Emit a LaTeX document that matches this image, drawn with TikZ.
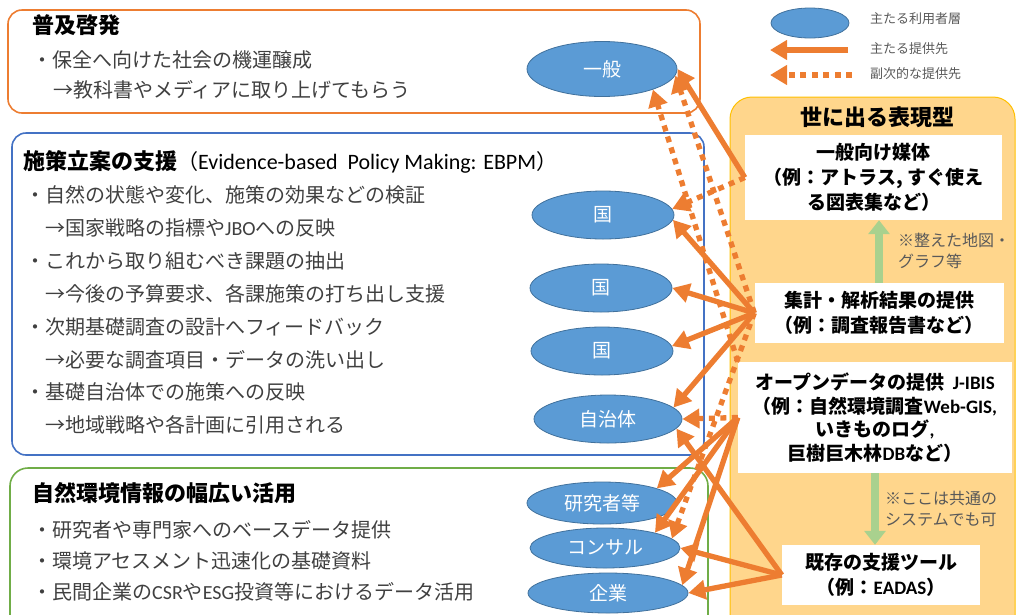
\documentclass[tikz,border=0pt]{standalone}
\usepackage{fontspec}
\setmainfont{Noto Sans CJK JP}
\newfontfamily\lat{Carlito}
\usetikzlibrary{shapes.geometric,arrows.meta}
\definecolor{org}{HTML}{ED7D31}
\definecolor{bblue}{HTML}{4472C4}
\definecolor{bgreen}{HTML}{70AD47}
\definecolor{efill}{HTML}{5B9BD5}
\definecolor{edraw}{HTML}{41719C}
\definecolor{pfill}{HTML}{FFD68C}
\definecolor{pdraw}{HTML}{FFC000}
\definecolor{garrow}{HTML}{A9D18E}
\definecolor{txtgray}{HTML}{404040}
\definecolor{notegray}{HTML}{595959}
\begin{document}
\begin{tikzpicture}[x=1pt,y=-1pt,
 ell/.style={ellipse, draw=edraw, fill=efill, line width=0.8pt, text=white, font=\fontsize{19}{22}\selectfont, inner sep=0pt},
 framebox/.style={rounded corners=14pt, line width=1.6pt},
 solidarr/.style={draw=org, line width=5.3pt, -{Triangle[length=17pt,width=19pt]}},
 dotarr/.style={draw=org, line width=5.3pt, dash pattern=on 6pt off 5.5pt, -{Triangle[length=17pt,width=19pt]}},
 wbox/.style={fill=white, draw=none, align=center, font=\bfseries\fontsize{19}{25}\selectfont, inner sep=0pt},
 bodytxt/.style={anchor=west, text=txtgray, font=\fontsize{20}{24}\selectfont, inner sep=0pt},
 ttl/.style={anchor=west, text=black, font=\bfseries\fontsize{22}{26}\selectfont, inner sep=0pt},
 notetxt/.style={anchor=north west, align=left, text=notegray, font=\fontsize{16}{21}\selectfont, inner sep=0pt},
 legtxt/.style={anchor=west, text=notegray, font=\fontsize{13}{16}\selectfont, inner sep=0pt},
 garr/.style={draw=garrow, line width=8pt, -{Triangle[length=14pt,width=21pt]}}
]
\useasboundingbox (0,0) rectangle (1016,614);
\clip (0,0) rectangle (1016,614);

% left frames
\draw[framebox, draw=org] (8,10) rectangle (700,113);
\draw[framebox, draw=bblue] (12,133) rectangle (704,455);
\draw[framebox, draw=bgreen, rounded corners=18pt] (10,468) rectangle (708,640);

% right panel
\draw[fill=pfill, draw=pdraw, line width=1pt, rounded corners=22pt] (730,97) rectangle (1015,650);

% ellipses
\node[ell, minimum width=150, minimum height=55] (ippan) at (602,69) {一般};
\node[ell, minimum width=142, minimum height=48] (kuni1) at (603,215) {国};
\node[ell, minimum width=142, minimum height=48] (kuni2) at (601,288) {国};
\node[ell, minimum width=142, minimum height=48] (kuni3) at (602,351) {国};
\node[ell, minimum width=148, minimum height=48] (jichi) at (608,419) {自治体};
\node[ell, minimum width=150, minimum height=42] (kenkyu) at (602,503) {研究者等};
\node[ell, minimum width=150, minimum height=40] (consul) at (605,548) {コンサル};
\node[ell, minimum width=160, minimum height=40] (kigyo) at (608,593) {企業};

% right white boxes
\node[wbox, minimum width=257, minimum height=85] (r1) at (873.5,177.5) {一般向け媒体\\（例：アトラス, すぐ使え\\る図表集など）};
\node[wbox, minimum width=249, minimum height=60] (r2) at (879,313) {集計・解析結果の提供\\（例：調査報告書など）};
\node[wbox, minimum width=274, minimum height=111, font=\bfseries\fontsize{19}{23.7}\selectfont] (r3) at (875,417.5) {オープンデータの提供\ \ {\lat J-IBIS}\\（例：自然環境調査{\lat Web-GIS,}\\いきものログ{\lat ,}\\巨樹巨木林{\lat DB}など）};
\node[wbox, minimum width=198, minimum height=60] (r4) at (881,575) {既存の支援ツール\\（例：{\lat EADAS}）};

\node[anchor=center, font=\bfseries\fontsize{22}{26}\selectfont, inner sep=0pt] (ptitle) at (877,117) {世に出る表現型};

% green arrows
\draw[garr] (r2.north) -- (r2.north |- r1.south);
\draw[garr] (r3.south) -- (r3.south |- r4.north);
\node[notetxt] (n1) at (898,233) {※整えた地図・\\グラフ等};
\node[notetxt] (n2) at (885,491) {※ここは共通の\\システムでも可};

% dotted arrows
\draw[dotarr] (r1.west) -- (kuni1.5);
\draw[dotarr] (r2.west) -- (ippan.-5);
\draw[dotarr] (r3.north west) -- (ippan.-22);
\draw[dotarr] (r3.west) -- (jichi.east);
\draw[dotarr] (r2.west) -- (consul.8);

% solid arrows
\draw[solidarr] (r1.west) -- (ippan.east);
\draw[solidarr] (r2.west) -- (kuni1.-4);
\draw[solidarr] (r2.west) -- (kuni2.east);
\draw[solidarr] (r2.west) -- (kuni3.4);
\draw[solidarr] (r2.west) -- (jichi.10);
\draw[solidarr] (r3.west) -- (kenkyu.15);
\draw[solidarr] (r3.west) -- (consul.17);
\draw[solidarr] (r3.west) -- (kigyo.6);
\draw[solidarr] (r4.west) -- (consul.east);
\draw[solidarr] (r4.west) -- (kigyo.east);
\draw[solidarr] (r4.west) -- (jichi.-8);

% legend
\node[ell, minimum width=78, minimum height=30] (legell) at (810,23) {};
\coordinate (la1) at (848,50);
\coordinate (la2) at (770,50);
\coordinate (lb1) at (852,75);
\coordinate (lb2) at (770,75);
\draw[solidarr, line width=6.5pt] (la1) -- (la2);
\draw[dotarr, line width=6.5pt] (lb1) -- (lb2);
\node[legtxt] (lg1) at (870,19) {主たる利用者層};
\node[legtxt] (lg2) at (870,49) {主たる提供先};
\node[legtxt] (lg3) at (870,74) {副次的な提供先};

% box 1 text
\node[ttl] (t1) at (32,25) {普及啓発};
\node[bodytxt] (b11) at (32,60) {・保全へ向けた社会の機運醸成};
\node[bodytxt] (b12) at (53,90) {→教科書やメディアに取り上げてもらう};

% box 2 text
\node[ttl] (t2) at (23,162) {施策立案の支援{\mdseries\fontsize{21}{24}\selectfont（{\lat\fontsize{22}{24}\selectfont Evidence-based\ \ Policy Making: EBPM}）}};
\node[bodytxt] (b21) at (25,195) {・自然の状態や変化、施策の効果などの検証};
\node[bodytxt] (b22) at (45,228) {→国家戦略の指標や{\lat JBO}への反映};
\node[bodytxt] (b23) at (25,261) {・これから取り組むべき課題の抽出};
\node[bodytxt] (b24) at (45,294) {→今後の予算要求、各課施策の打ち出し支援};
\node[bodytxt] (b25) at (25,327) {・次期基礎調査の設計へフィードバック};
\node[bodytxt] (b26) at (45,360) {→必要な調査項目・データの洗い出し};
\node[bodytxt] (b27) at (25,392) {・基礎自治体での施策への反映};
\node[bodytxt] (b28) at (45,425) {→地域戦略や各計画に引用される};

% box 3 text
\node[ttl] (t3) at (32,493) {自然環境情報の幅広い活用};
\node[bodytxt] (b31) at (32,530) {・研究者や専門家へのベースデータ提供};
\node[bodytxt] (b32) at (32,561) {・環境アセスメント迅速化の基礎資料};
\node[bodytxt] (b33) at (32,592) {・民間企業の{\lat CSR}や{\lat ESG}投資等におけるデータ活用};
\end{tikzpicture}
\end{document}
